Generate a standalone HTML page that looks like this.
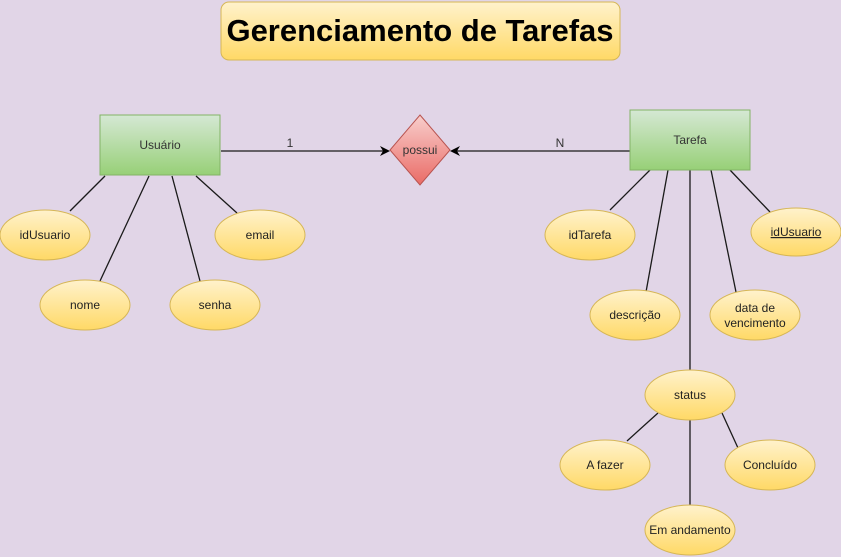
<!DOCTYPE html>
<html><head><meta charset="utf-8"><style>
html,body{margin:0;padding:0;background:#e1d5e7;}
svg{display:block;font-family:"Liberation Sans",Arial,sans-serif;}
</style></head><body>
<svg width="841" height="557" viewBox="0 0 841 557" xmlns="http://www.w3.org/2000/svg">
<defs>
<linearGradient id="gy" x1="0" y1="0" x2="0" y2="1"><stop offset="0" stop-color="#fff2cc"/><stop offset="1" stop-color="#ffd966"/></linearGradient>
<linearGradient id="gg" x1="0" y1="0" x2="0" y2="1"><stop offset="0" stop-color="#d5e8d4"/><stop offset="1" stop-color="#97d077"/></linearGradient>
<linearGradient id="gr" x1="0" y1="0" x2="0" y2="1"><stop offset="0" stop-color="#f8cecc"/><stop offset="1" stop-color="#ea6b66"/></linearGradient>
</defs>
<rect x="0" y="0" width="841" height="557" fill="#e1d5e7"/>
<rect x="221" y="2" width="399" height="58" rx="8" fill="url(#gy)" stroke="#d6b656"/>
<text x="420" y="41" text-anchor="middle" font-size="31" font-weight="bold" fill="#000">Gerenciamento de Tarefas</text>

<g stroke="#1a1a1a" stroke-width="1.3" fill="none">
<line x1="105" y1="176" x2="70" y2="211"/>
<line x1="149" y1="176" x2="100" y2="281"/>
<line x1="172" y1="176" x2="200" y2="281"/>
<line x1="196" y1="176" x2="237" y2="213"/>
<line x1="650" y1="170" x2="610" y2="210"/>
<line x1="668" y1="170" x2="646" y2="292"/>
<line x1="690" y1="170" x2="690" y2="371"/>
<line x1="711" y1="170" x2="736" y2="292"/>
<line x1="730" y1="170" x2="770" y2="212"/>
<line x1="658" y1="413" x2="627" y2="441"/>
<line x1="690" y1="420" x2="690" y2="505"/>
<line x1="722" y1="413" x2="738" y2="448"/>
<line x1="221" y1="151" x2="384" y2="151"/>
<line x1="630" y1="151" x2="456" y2="151"/>
</g>
<polygon points="390,151 380,146 383,151 380,156" fill="#000"/>
<polygon points="450,151 460,146 457,151 460,156" fill="#000"/>
<text x="290" y="147" font-size="12" text-anchor="middle" fill="#333">1</text>
<text x="560" y="147" font-size="12" text-anchor="middle" fill="#333">N</text>

<rect x="100" y="115" width="120" height="60" fill="url(#gg)" stroke="#82b366"/>
<text x="160" y="149" font-size="12" text-anchor="middle" fill="#333">Usuário</text>
<rect x="630" y="110" width="120" height="60" fill="url(#gg)" stroke="#82b366"/>
<text x="690" y="144" font-size="12" text-anchor="middle" fill="#333">Tarefa</text>
<polygon points="420,115 450,150 420,185 390,150" fill="url(#gr)" stroke="#b85450"/>
<text x="420" y="154" font-size="12" text-anchor="middle" fill="#333">possui</text>

<g fill="url(#gy)" stroke="#d6b656">
<ellipse cx="45" cy="235" rx="45" ry="25"/>
<ellipse cx="260" cy="235" rx="45" ry="25"/>
<ellipse cx="85" cy="305" rx="45" ry="25"/>
<ellipse cx="215" cy="305" rx="45" ry="25"/>
<ellipse cx="590" cy="235" rx="45" ry="25"/>
<ellipse cx="796" cy="232" rx="45" ry="24"/>
<ellipse cx="635" cy="315" rx="45" ry="25"/>
<ellipse cx="755" cy="315" rx="45" ry="25"/>
<ellipse cx="690" cy="395" rx="45" ry="25"/>
<ellipse cx="605" cy="465" rx="45" ry="25"/>
<ellipse cx="770" cy="465" rx="45" ry="25"/>
<ellipse cx="690" cy="530" rx="45" ry="25"/>
</g>
<g font-size="12" text-anchor="middle" fill="#222">
<text x="45" y="239">idUsuario</text>
<text x="260" y="239">email</text>
<text x="85" y="309">nome</text>
<text x="215" y="309">senha</text>
<text x="590" y="239">idTarefa</text>
<text x="796" y="236" text-decoration="underline">idUsuario</text>
<text x="635" y="319">descrição</text>
<text x="755" y="312">data de</text>
<text x="755" y="327">vencimento</text>
<text x="690" y="399">status</text>
<text x="605" y="469">A fazer</text>
<text x="770" y="469">Concluído</text>
<text x="690" y="534">Em andamento</text>
</g>
</svg>
</body></html>
